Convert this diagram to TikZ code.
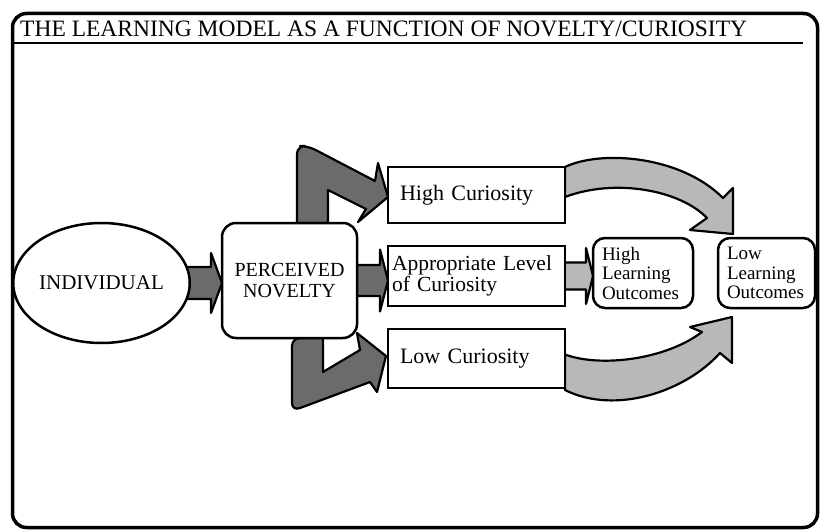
\documentclass[tikz,border=0pt]{standalone}
\usepackage{fontspec}
\setmainfont{Liberation Serif}
\usetikzlibrary{shapes.geometric,calc,backgrounds}

\begin{document}
\begin{tikzpicture}[x=1pt,y=-1pt,
	box/.style={draw, line width=2.5pt, fill=white, outer sep=0pt, inner ysep=0pt, align=left, font=\fontsize{22}{17}\selectfont},
	roundbox/.style={box, rounded corners=14pt},
	darkarrow/.style={draw, line width=2.2pt, fill=black!58, line join=round},
	lightarrow/.style={draw, line width=2.2pt, fill=black!28, line join=round},
	fatarrow/.style n args={3}{to path={let \p1=(\tikztostart), \p2=(\tikztotarget) in
		(\x1-4pt,\y1+#1pt) -- (\x2-#3pt,\y1+#1pt) -- (\x2-#3pt,\y1+#2pt) -- (\x2,\y1)
		-- (\x2-#3pt,\y1-#2pt) -- (\x2-#3pt,\y1-#1pt) -- (\x1-4pt,\y1-#1pt) -- cycle}}]

			\useasboundingbox (0,0) rectangle (821,532);

			%frame and title
			\draw[line width=3.5pt, rounded corners=14pt] (12.5,13.5) rectangle (817.5,527.5);

			\node[anchor=base west, inner sep=0pt, font=\fontsize{23.5}{24}\selectfont] (title) at (20,37) {THE LEARNING MODEL AS A FUNCTION OF NOVELTY/CURIOSITY};

			\draw[line width=2pt] (13,43) -- (803,43);

			%graph
			\node[ellipse, draw, line width=2.5pt, fill=white, outer sep=0pt, inner sep=0pt, minimum width=163pt, minimum height=120pt, font=\fontsize{21}{21}\selectfont] (indiv) at (101.5,283) {INDIVIDUAL};

			\node[roundbox, align=center, minimum width=135pt, minimum height=115pt, font=\fontsize{20}{21}\selectfont] (pn) at (289.5,280.5) {PERCEIVED\\NOVELTY};

			\node[box, text width=153pt, inner xsep=12pt, minimum height=56pt] (high) at (476.5,195) {High Curiosity};

			\node[box, text width=169pt, inner xsep=4pt, minimum height=60pt, font=\fontsize{21.5}{17}\selectfont] (appr) at (476.5,276) {Appropriate Level\\of Curiosity};

			\node[box, text width=153pt, inner xsep=12pt, minimum height=59pt] (low) at (476.5,358.5) {Low Curiosity};

			\node[roundbox, rounded corners=12pt, text width=82pt, inner xsep=9pt, minimum height=70pt, font=\fontsize{19}{19.5}\selectfont] (hlo) at (643,273) {High\\Learning\\Outcomes};

			\node[roundbox, rounded corners=12pt, text width=79pt, inner xsep=9pt, minimum height=70pt, font=\fontsize{19}{19.5}\selectfont] (llo) at (766.5,273) {Low\\Learning\\Outcomes};

			%arrows
			\begin{scope}[on background layer]

			\draw[darkarrow, fatarrow={16}{30}{11}] (indiv.east) to (pn.west);

			\draw[darkarrow, fatarrow={15.5}{31}{8}] (pn.east) to (appr.west);

			\draw[lightarrow, fatarrow={13.5}{28}{7}] (appr.east) to (hlo.west);

			\draw[darkarrow] ($(pn.north)+(38.5,0)$) -- ($(pn.north)+(7.5,0)$) [rounded corners=8pt] -- ($(pn.north)+(7.5,-77)$) -- ($(high.west)+(-80,-49)$) [sharp corners] -- ($(high.west)+(-13,-14)$) -- ($(high.west)+(-10,-32)$) -- ($(high.west)+(0,2)$) -- ($(high.west)+(-30,27)$) -- ($(high.west)+(-22,14)$) -- ($(pn.north)+(38.5,-33)$) -- cycle;

			\draw[darkarrow] ($(pn.south)+(33.5,0)$) -- ($(pn.south)+(33.5,34)$) -- ($(low.west)+(-28,-8.5)$) -- ($(low.west)+(-31,-25.5)$) -- ($(low.west)+(-2,-2.5)$) -- ($(low.west)+(-11,33.5)$) -- ($(low.west)+(-18,23.5)$) [rounded corners=8pt] -- ($(pn.south)+(2.5,73)$) -- ($(pn.south)+(2.5,0)$) [sharp corners] -- cycle;

			\draw[lightarrow] (high.north east) .. controls +(35,-17) and +(-43,-43) .. ($(llo.north west)+(5,-40)$) -- ($(llo.north west)+(15,-50)$) -- ($(llo.north west)+(15,-4)$) -- ($(llo.north west)+(-28,-8)$) -- ($(llo.north west)+(-11,-20)$) .. controls +(-27,-28) and +(50,-19) .. ($(high.east)+(0,2)$) -- cycle;

			\draw[lightarrow] ($(low.east)+(0,-4)$) .. controls +(35,13) and +(-37,28) .. ($(llo.south west)+(-16,24)$) -- ($(llo.south west)+(-28,19)$) -- ($(llo.south west)+(14,9)$) -- ($(llo.south west)+(14,55)$) -- ($(llo.south west)+(2,45)$) .. controls +(-35,39) and +(50,25) .. ($(low.south east)+(0,2)$) -- cycle;

			\end{scope}
        \end{tikzpicture}
\end{document}
